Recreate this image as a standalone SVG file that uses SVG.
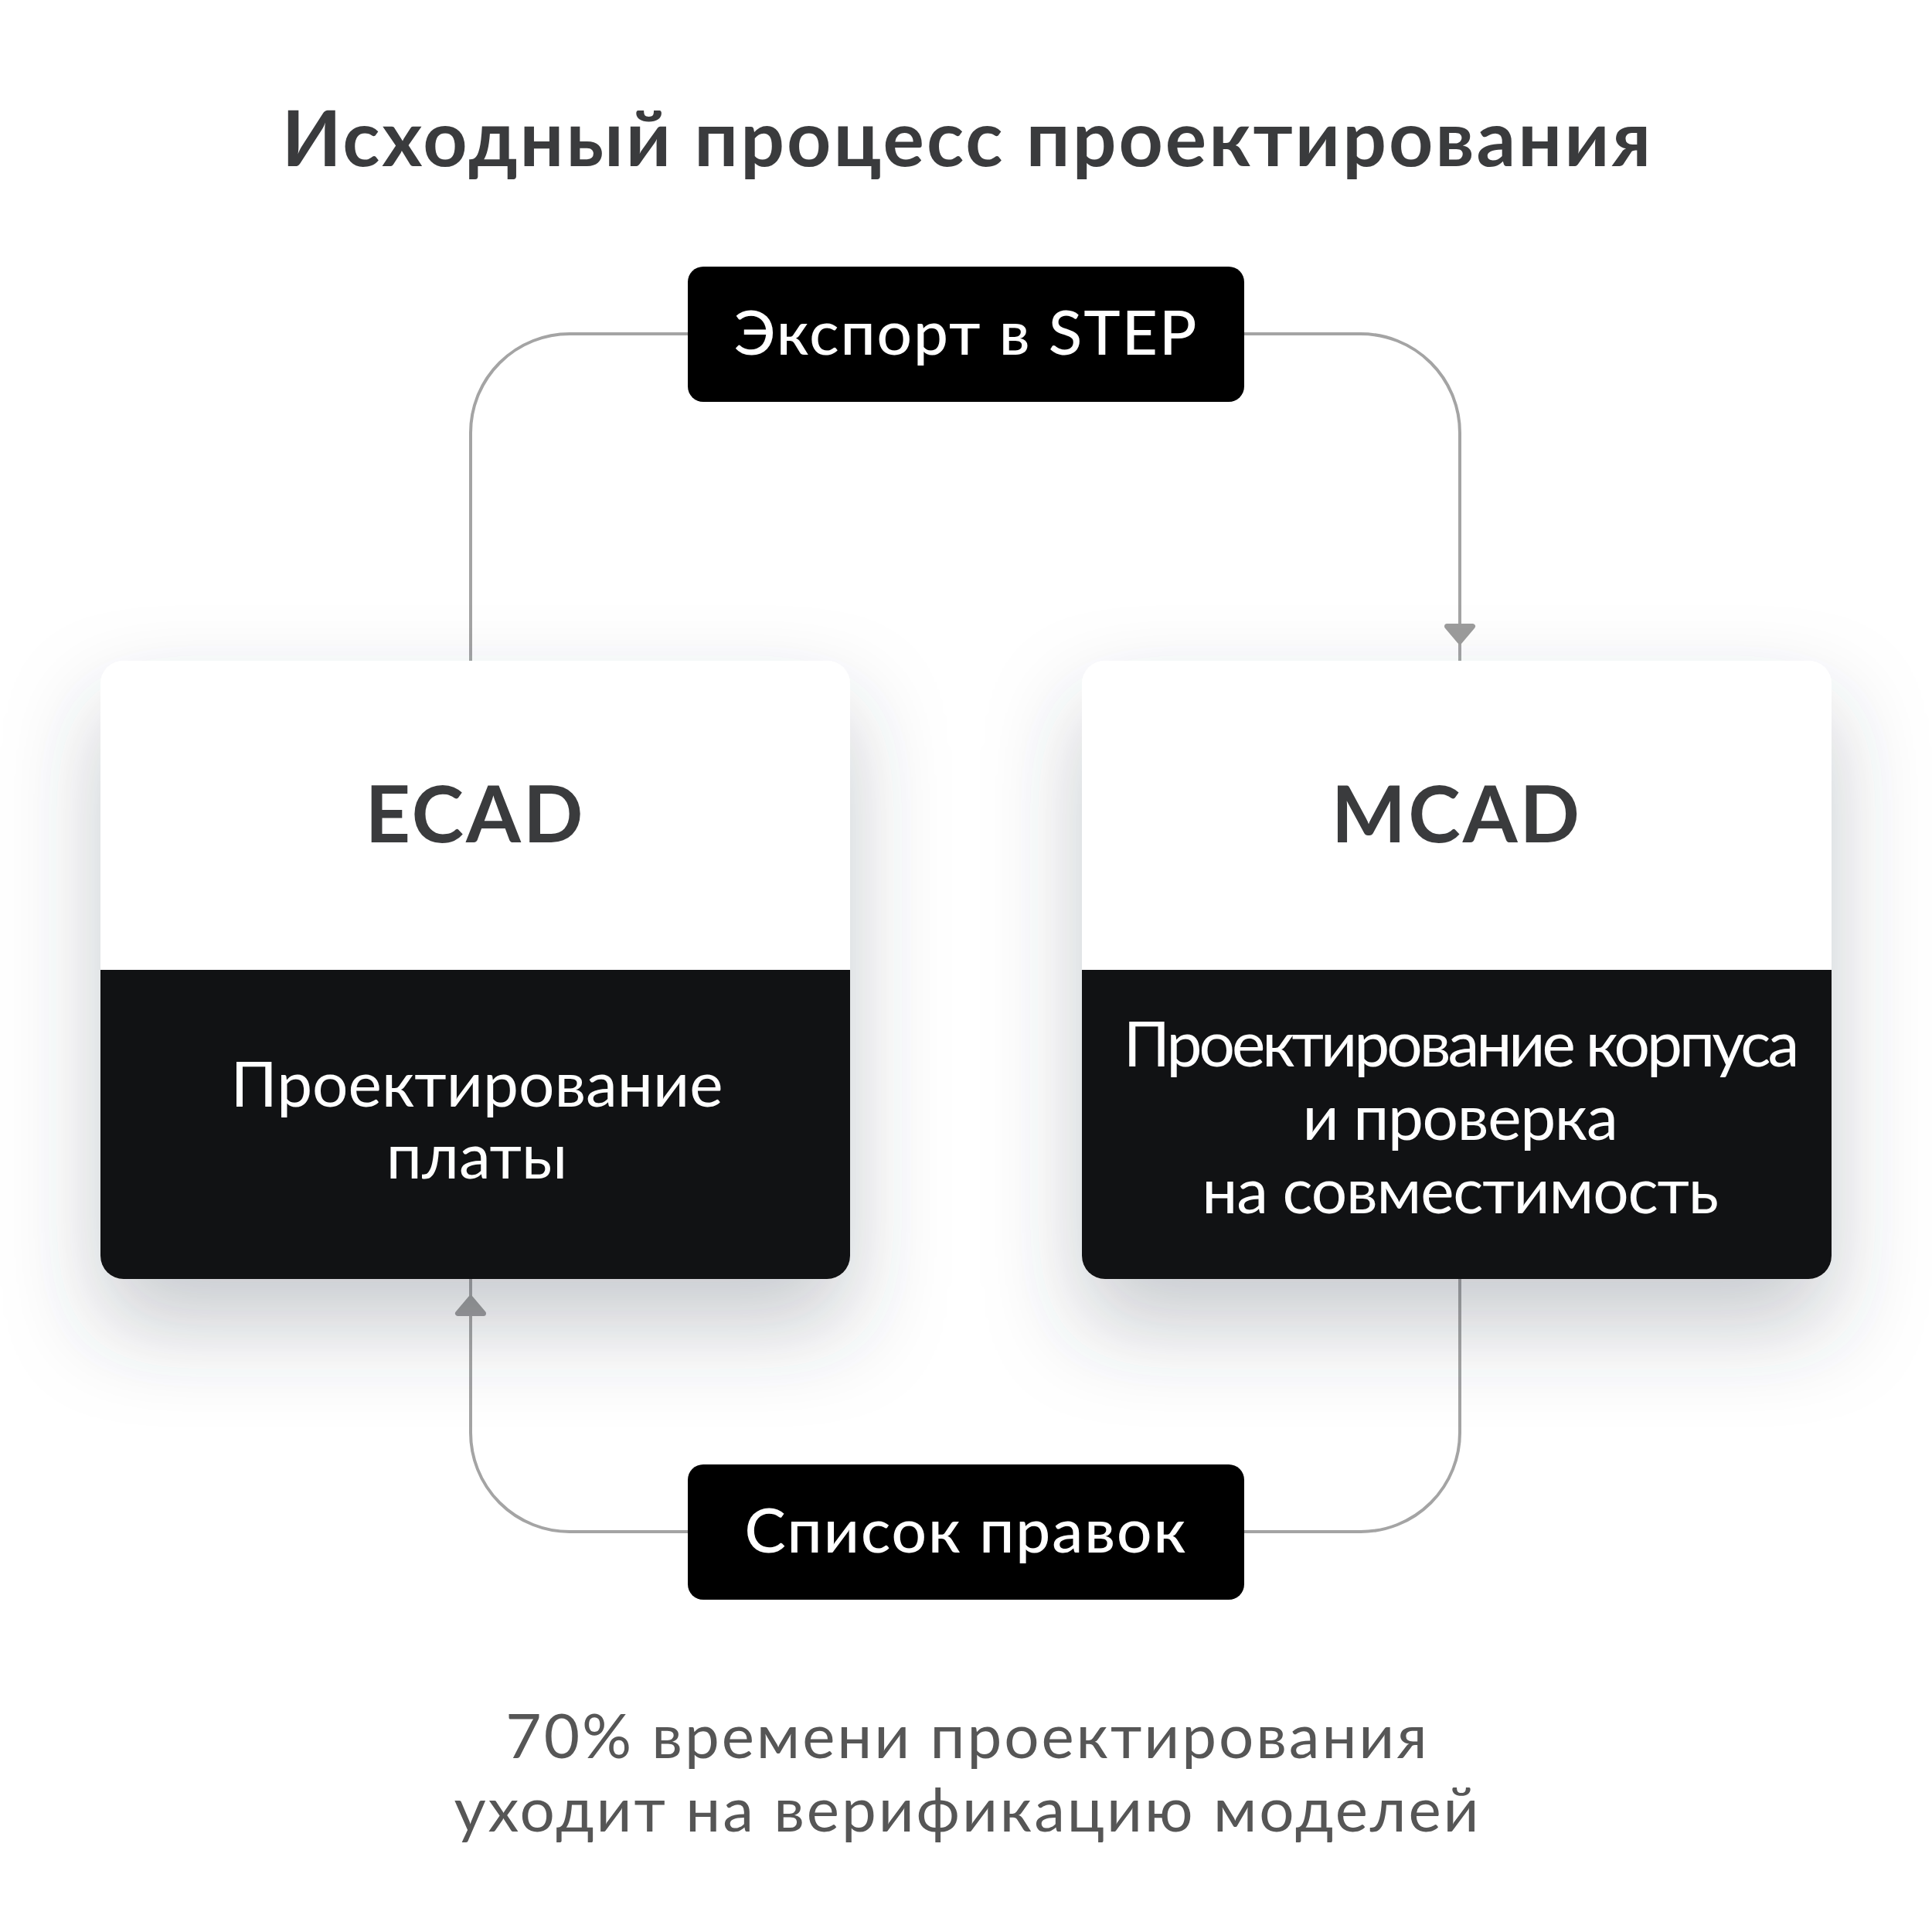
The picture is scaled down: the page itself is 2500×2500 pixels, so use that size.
<svg xmlns="http://www.w3.org/2000/svg" width="2500" height="2500" viewBox="0 0 2500 2500">
<defs>
<style>
.title{font-family:Lato,"Noto Sans","DejaVu Sans",sans-serif;font-weight:700;font-size:100px;fill:#3a3b3d;letter-spacing:3px}
.head{font-family:Lato,"Noto Sans","DejaVu Sans",sans-serif;font-weight:700;font-size:102px;fill:#3a3b3d;letter-spacing:3px}
.body{font-family:Lato,"Noto Sans","DejaVu Sans",sans-serif;font-weight:400;font-size:82px;fill:#ffffff}
.lbl{font-family:Lato,"Noto Sans","DejaVu Sans",sans-serif;font-weight:500;font-size:80px;fill:#ffffff;letter-spacing:2px}
.foot{font-family:Lato,"Noto Sans","DejaVu Sans",sans-serif;font-weight:400;font-size:80px;fill:#565656;letter-spacing:2.9px}
.conn{fill:none;stroke:#a4a4a4;stroke-width:4}
.card{fill:#ffffff}
.cardb{fill:#111214}
.box{fill:#000000}
</style>
<filter id="shadow" x="-30%" y="-30%" width="160%" height="180%">
<feDropShadow dx="0" dy="60" stdDeviation="60" flood-color="#3a3f55" flood-opacity="0.28"/>
</filter>
<marker id="arrow" markerUnits="userSpaceOnUse" viewBox="-40 -25 60 50" markerWidth="60" markerHeight="50" refX="20" refY="0" orient="auto" overflow="visible">
<path d="M-5,0 L-24.5,-16.5 L-24.5,16.5 Z" fill="#9c9c9c" stroke="#9c9c9c" stroke-width="7" stroke-linejoin="round"/>
</marker>
</defs>
<rect width="2500" height="2500" fill="#ffffff"/>
<text class="title" x="1252" y="215" text-anchor="middle">Исходный процесс проектирования</text>

<g id="connectors">
<path class="conn" d="M609,855 V560 A128,128 0 0 1 737,432 H1761 A128,128 0 0 1 1889,560 V855" marker-end="url(#arrow)"/>
<path class="conn" d="M1889,1655 V1854 A128,128 0 0 1 1761,1982 H737 A128,128 0 0 1 609,1854 V1655" marker-end="url(#arrow)"/>
</g>

<g id="ecad">
<rect class="card" x="130" y="855" width="970" height="800" rx="30" filter="url(#shadow)"/>
<path class="cardb" d="M130,1255 H1100 V1625 A30,30 0 0 1 1070,1655 H160 A30,30 0 0 1 130,1625 Z"/>
<text class="head" x="615" y="1090" text-anchor="middle">ECAD</text>
<text class="body" x="617" y="1432" text-anchor="middle">Проектирование</text>
<text class="body" x="617" y="1525" text-anchor="middle">платы</text>
</g>

<g id="mcad">
<rect class="card" x="1400" y="855" width="970" height="800" rx="30" filter="url(#shadow)"/>
<path class="cardb" d="M1400,1255 H2370 V1625 A30,30 0 0 1 2340,1655 H1430 A30,30 0 0 1 1400,1625 Z"/>
<text class="head" x="1885" y="1090" text-anchor="middle">MCAD</text>
<text class="body" x="1889" y="1380" text-anchor="middle" letter-spacing="-4">Проектирование корпуса</text>
<text class="body" x="1889" y="1475" text-anchor="middle" letter-spacing="-1.3">и проверка</text>
<text class="body" x="1889" y="1570" text-anchor="middle" letter-spacing="-1.2">на совместимость</text>
</g>

<g id="export">
<rect class="box" x="890" y="345" width="720" height="175" rx="20"/>
<text class="lbl" x="1250" y="459" text-anchor="middle">Экспорт в STEP</text>
</g>

<g id="edits">
<rect class="box" x="890" y="1895" width="720" height="175" rx="20"/>
<text class="lbl" x="1250" y="2009" text-anchor="middle">Список правок</text>
</g>

<text class="foot" x="1252" y="2275" text-anchor="middle">70% времени проектирования</text>
<text class="foot" x="1252" y="2370" text-anchor="middle">уходит на верификацию моделей</text>
</svg>
